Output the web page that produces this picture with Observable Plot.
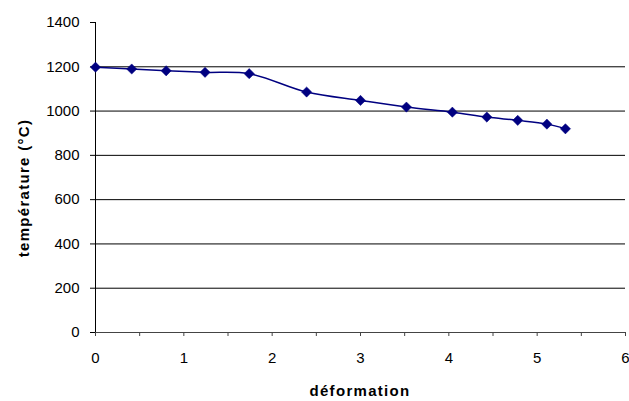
<!DOCTYPE html>
<html>
<head>
<meta charset="utf-8">
<script src="https://cdn.jsdelivr.net/npm/d3@7"></script>
<script src="https://cdn.jsdelivr.net/npm/@observablehq/plot@0.6"></script>
<style>
  html, body { margin: 0; padding: 0; background: #fff; }
  svg { display: block; }
</style>
</head>
<body>
<div id="chart"></div>
<script>
const deformation = [0, 0.41, 0.80, 1.24, 1.74, 2.39, 3.00, 3.52, 4.04, 4.43, 4.78, 5.11, 5.32];
const temperature = [1198, 1190, 1182, 1175, 1169, 1086, 1048, 1018, 995, 973, 958, 941, 920];
const yTicks = [0, 200, 400, 600, 800, 1000, 1200, 1400];
const gridValues = [200, 400, 600, 800, 1000, 1200];
const xTicks = [0, 0.5, 1, 1.5, 2, 2.5, 3, 3.5, 4, 4.5, 5, 5.5, 6];
const xLabel = "déformation";
const yLabel = "température (°C)";

const data = deformation.map((d, i) => ({x: d, y: temperature[i]}));
const navy = "#000080";
const font = "'Liberation Sans', Arial, sans-serif";

const chart = Plot.plot({
  width: 629,
  height: 401,
  marginLeft: 95,
  marginRight: 4,
  marginTop: 22,
  marginBottom: 69,
  style: {fontFamily: font, fontSize: "15px", color: "#000", background: "#fff"},
  x: {domain: [0, 6]},
  y: {domain: [0, 1400]},
  marks: [
    Plot.ruleY(gridValues, {stroke: "#000", strokeWidth: 1}),
    Plot.ruleX([0], {stroke: "#000", strokeWidth: 1}),
    Plot.ruleY([0], {stroke: "#444", strokeWidth: 1}),
    Plot.axisY({ticks: yTicks, tickSize: 5, tickPadding: 11, label: null, stroke: "#000",
      fontSize: 15, tickFormat: d => String(d)}),
    Plot.axisX({ticks: xTicks, tickSize: 4, tickPadding: 16, label: null, stroke: "#444",
      fontSize: 15, tickFormat: d => Number.isInteger(d) ? String(d) : ""}),
    Plot.line(data, {x: "x", y: "y", stroke: navy, strokeWidth: 1.5, curve: "catmull-rom"}),
    Plot.dot(data, {x: "x", y: "y", symbol: "diamond2", r: 4.6, fill: navy, stroke: navy, strokeWidth: 0.5})
  ]
});
const svg = d3.select(chart);
svg.append("text")
  .attr("transform", "translate(360,392)")
  .attr("text-anchor", "middle")
  .attr("dominant-baseline", "middle")
  .style("font-family", font).style("font-size", "15px").style("font-weight", "bold")
  .style("letter-spacing", "1.3px").attr("fill", "#000")
  .text(xLabel);
svg.append("text")
  .attr("transform", "translate(25,188) rotate(-90)")
  .attr("text-anchor", "middle")
  .attr("dominant-baseline", "middle")
  .style("font-family", font).style("font-size", "15px").style("font-weight", "bold")
  .style("letter-spacing", "1.3px").attr("fill", "#000")
  .text(yLabel);
document.getElementById("chart").appendChild(chart);
</script>
</body>
</html>
